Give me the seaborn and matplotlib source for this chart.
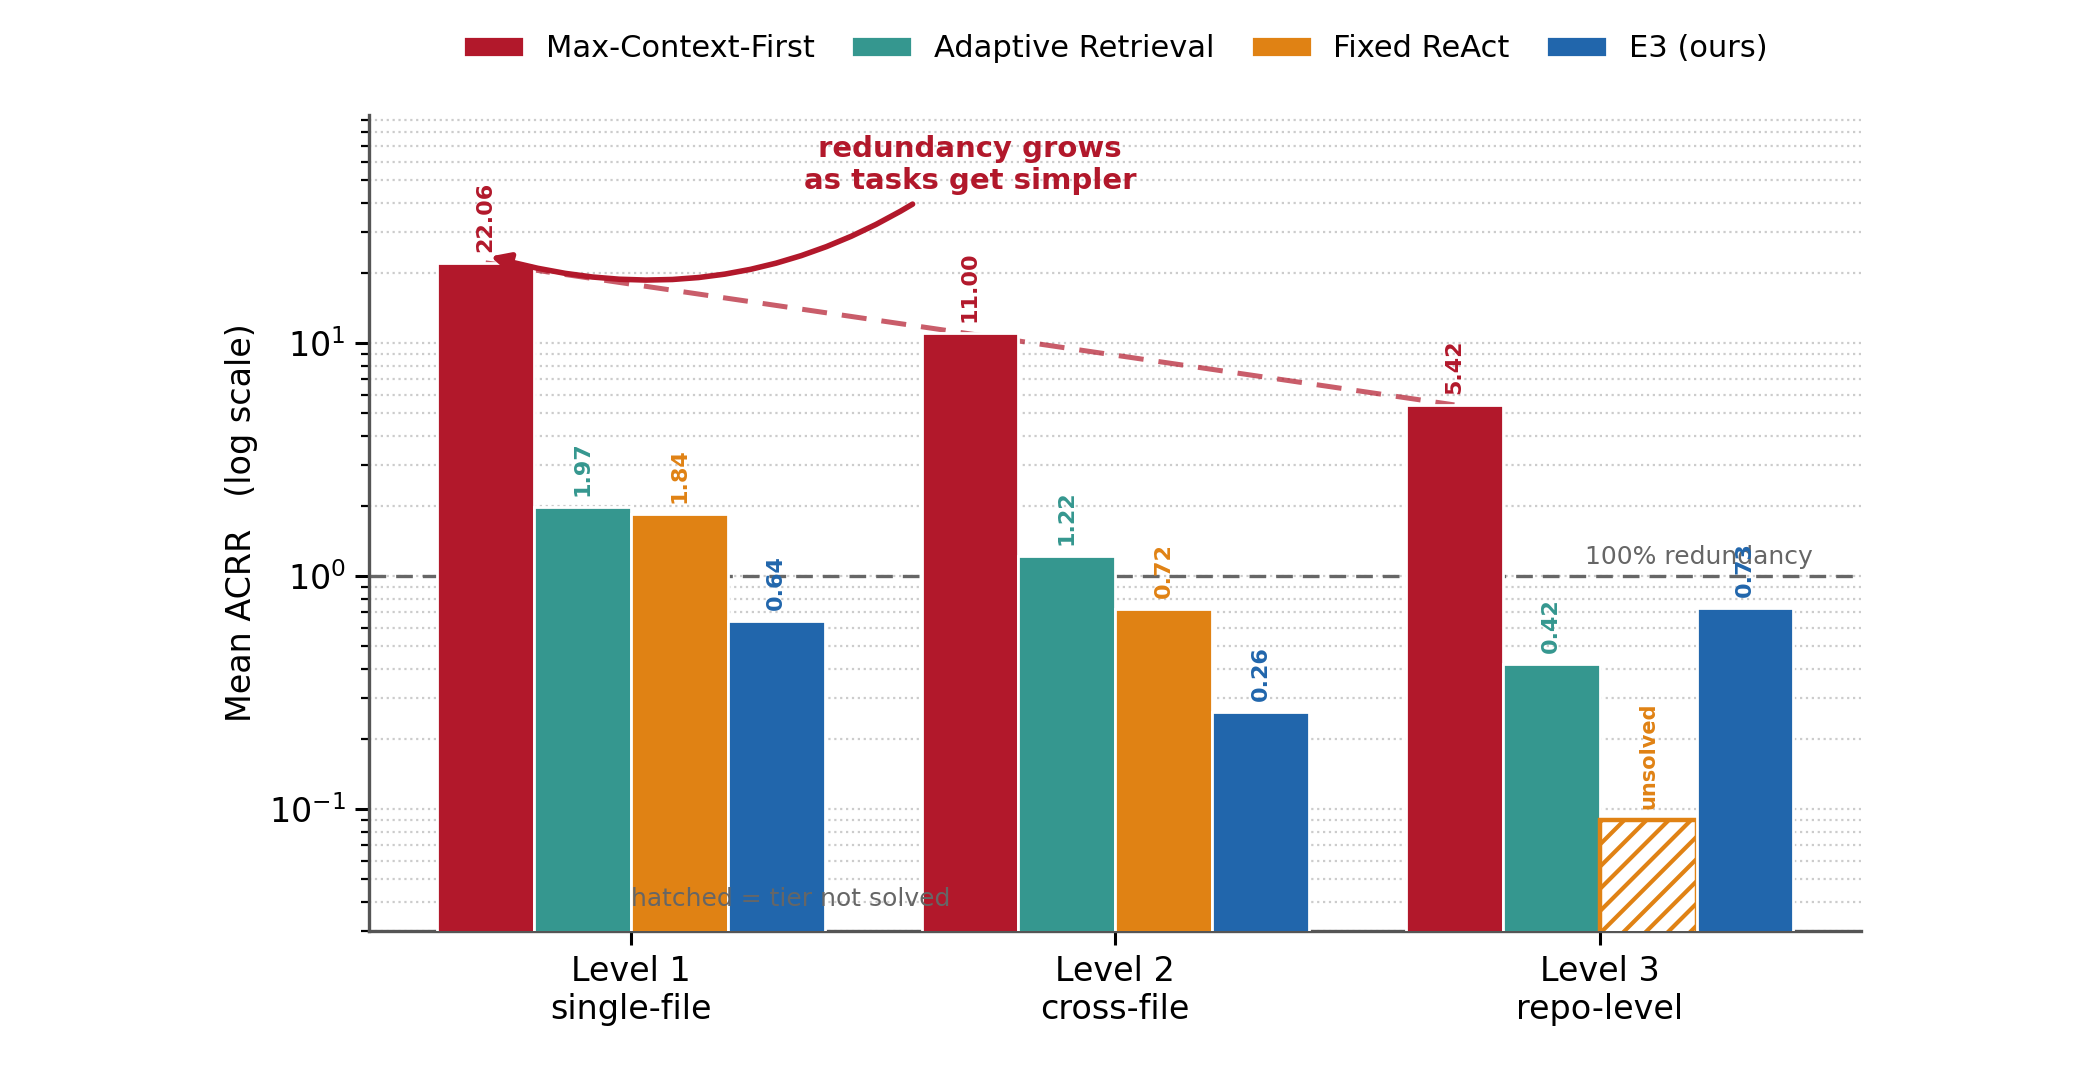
import matplotlib
matplotlib.use("Agg")
import matplotlib.pyplot as plt
import numpy as np
import pandas as pd
import seaborn as sns

# data
levels = ["Level 1\nsingle-file", "Level 2\ncross-file", "Level 3\nrepo-level"]
methods = ["Max-Context-First", "Adaptive Retrieval", "Fixed ReAct", "E3 (ours)"]
max_context = [22.06, 11.00, 5.42]
adaptive = [1.97, 1.22, 0.42]
fixed_react = [1.84, 0.72, np.nan]   # level 3 not solved
e3 = [0.64, 0.26, 0.73]
unsolved_height = 0.09               # placeholder height for the hatched bar

colors = ["#B2182B", "#35978F", "#E08214", "#2166AC"]

values = [max_context, adaptive, fixed_react, e3]
rows = []
for m, vals in zip(methods, values):
    for lv, v in zip(levels, vals):
        rows.append({"level": lv, "method": m,
                     "acrr": unsolved_height if np.isnan(v) else v})
df = pd.DataFrame(rows)

sns.set_style("white")
plt.rcParams["font.family"] = ["DejaVu Sans"]
plt.rcParams["text.color"] = "black"
plt.rcParams["axes.labelcolor"] = "black"
plt.rcParams["xtick.color"] = "black"
plt.rcParams["ytick.color"] = "black"
plt.rcParams["hatch.linewidth"] = 1.5

fig, ax = plt.subplots(figsize=(10.375, 5.375), dpi=200)
fig.subplots_adjust(left=0.178, right=0.897, bottom=0.134, top=0.893)
ax.set_yscale("log")

sns.barplot(data=df, x="level", y="acrr", hue="method", hue_order=methods,
            palette=colors, saturation=1, width=0.8, edgecolor="white", linewidth=1,
            errorbar=None, ax=ax, zorder=3)

ax.set_ylim(0.03, 95)
ax.set_xlim(-0.54, 2.54)

# value labels + hatched bar for unsolved tier
for i, cont in enumerate(ax.containers):
    vals = values[i]
    for bar, v in zip(cont, vals):
        x = bar.get_x() + bar.get_width() / 2
        h = bar.get_height()
        if np.isnan(v):
            bar.set_facecolor("white")
            bar.set_edgecolor(colors[i])
            bar.set_hatch("///")
            bar.set_linewidth(1.6)
            ax.annotate("unsolved", (x, h), xytext=(0, 4), textcoords="offset points",
                        ha="center", va="bottom", rotation=90, fontsize=7.5,
                        fontweight="bold", color=colors[i], zorder=6)
        else:
            ax.annotate(f"{v:.2f}", (x, h), xytext=(0, 4), textcoords="offset points",
                        ha="center", va="bottom", rotation=90, fontsize=8,
                        fontweight="bold", color=colors[i], zorder=6)

# trend line over the Max-Context-First bars
mc_bars = ax.containers[0]
xs = [b.get_x() + b.get_width() / 2 for b in mc_bars]
ax.plot([xs[0], xs[-1]], [max_context[0], max_context[-1]], ls=(0, (5, 3)),
        color="#B2182B", alpha=0.7, lw=1.8, zorder=2)

# 100% redundancy line
ax.axhline(1.0, color="#666666", ls=(0, (5, 3)), lw=1.2, zorder=1)
ax.text(2.44, 1.07, "100% redundancy", ha="right", va="bottom", fontsize=9,
        color="#666666", zorder=4)

ax.text(0.33, 0.041, "hatched = tier not solved", ha="center", va="center",
        fontsize=9, color="#666666", zorder=4)

ax.annotate("redundancy grows\nas tasks get simpler", xy=(-0.29, 23.5), xytext=(0.7, 58),
            ha="center", va="center", fontsize=10.5, fontweight="bold", color="#B2182B",
            arrowprops=dict(arrowstyle="-|>", color="#B2182B", lw=2, shrinkB=0,
                            connectionstyle="arc3,rad=-0.25", mutation_scale=14),
            zorder=6)

ax.grid(True, which="both", axis="y", ls=":", color="#cccccc", lw=0.8, zorder=0)
ax.set_axisbelow(True)
for s in ["top", "right"]:
    ax.spines[s].set_visible(False)
for s in ["left", "bottom"]:
    ax.spines[s].set_color("#555555")
    ax.spines[s].set_linewidth(1.2)
ax.tick_params(axis="both", which="major", labelsize=12, length=5, width=1.1,
               left=True, bottom=True)
ax.tick_params(axis="y", which="minor", length=3, width=0.8, left=True)

ax.set_xlabel("")
ax.set_ylabel("Mean ACRR   (log scale)", fontsize=12)

handles, labels = ax.get_legend_handles_labels()
ax.legend(handles, labels, loc="center", bbox_to_anchor=(0.5, 1.081), ncol=4,
          frameon=False, fontsize=11, columnspacing=1.2, handletextpad=0.7)

fig.savefig("out.png", dpi=200)
